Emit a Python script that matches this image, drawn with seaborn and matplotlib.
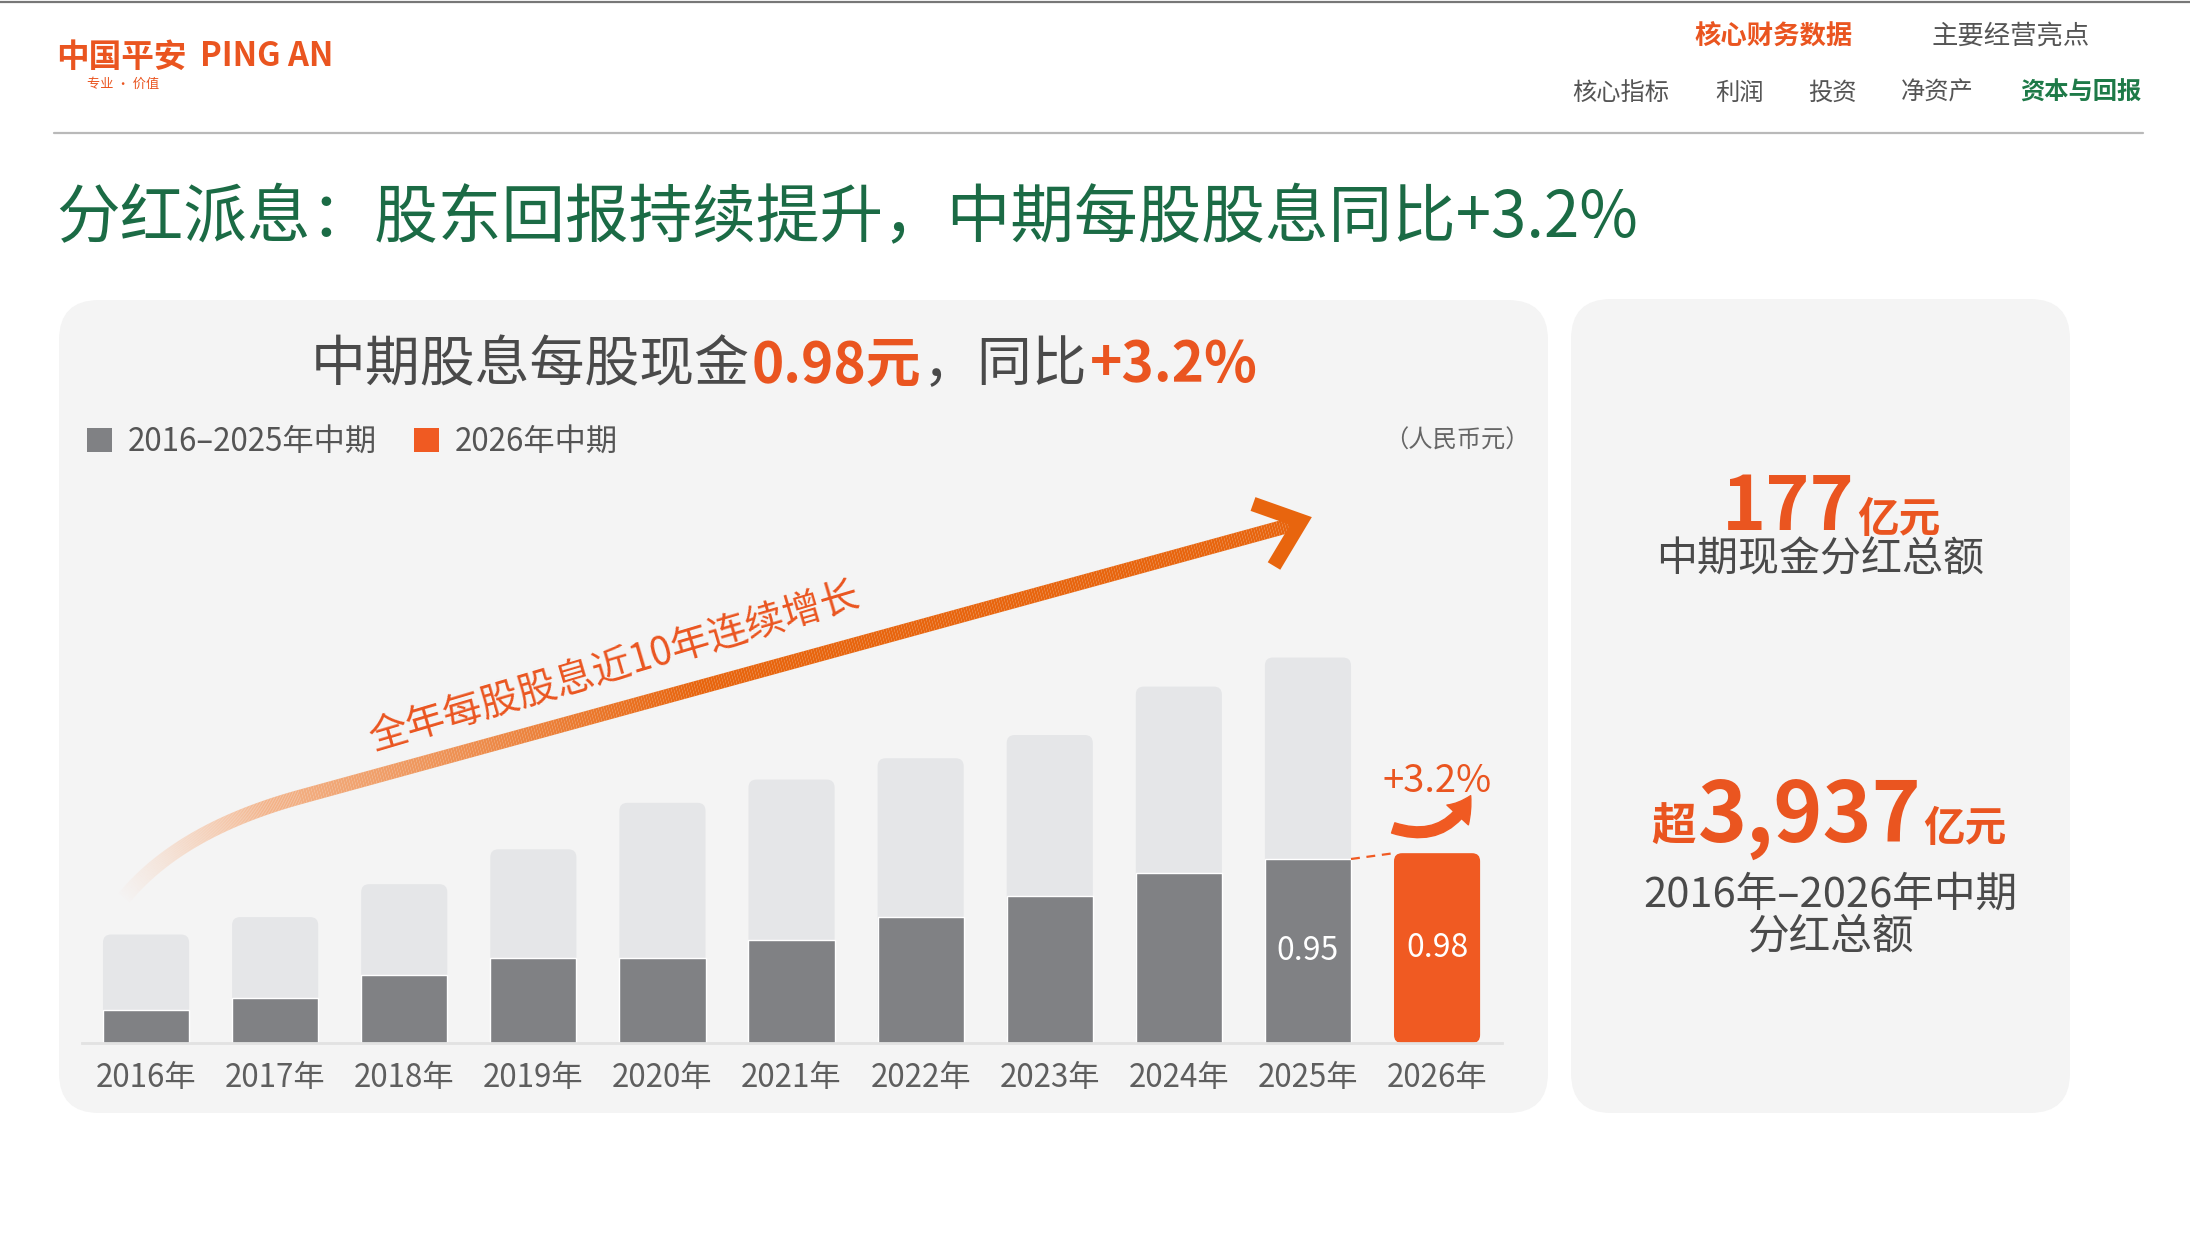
import numpy as np
import pandas as pd
import matplotlib
matplotlib.use("Agg")
import matplotlib.pyplot as plt
import seaborn as sns
from matplotlib.patches import FancyBboxPatch, Patch, FancyArrowPatch
from matplotlib.collections import LineCollection
from matplotlib.lines import Line2D
from matplotlib.transforms import IdentityTransform
from matplotlib.colors import to_rgb

# ---------------- data ----------------
years = ["2016年", "2017年", "2018年", "2019年", "2020年", "2021年",
         "2022年", "2023年", "2024年", "2025年", "2026年"]
interim_dps = [0.17, 0.23, 0.35, 0.44, 0.44, 0.53, 0.65, 0.76, 0.88, 0.95, 0.98]
full_year_dps = [0.56, 0.65, 0.82, 1.00, 1.24, 1.36, 1.47, 1.59, 1.84, 1.99, np.nan]
legend_labels = ["2016–2025年中期", "2026年中期"]
labelled_years = ["2025年", "2026年"]
yoy_label = "+3.2%"

title_text = "分红派息：股东回报持续提升，中期每股股息同比+3.2%"
heading_parts = ["中期股息每股现金", "0.98元", "，同比", "+3.2%"]
unit_text = "（人民币元）"
arrow_text = "全年每股股息近10年连续增长"
kpi1_value, kpi1_unit, kpi1_label = "177", "亿元", "中期现金分红总额"
kpi2_prefix, kpi2_value, kpi2_unit = "超", "3,937", "亿元"
kpi2_label = ["2016年–2026年中期", "分红总额"]
nav_top = ["核心财务数据", "主要经营亮点"]
nav_sub = ["核心指标", "利润", "投资", "净资产", "资本与回报"]

# ---------------- style ----------------
ORANGE = "#F05A22"
ORANGE_T = "#EA5520"
GREEN = "#1B6B45"
DARK = "#808184"
LIGHT = "#E5E6E8"
PANEL = "#F4F4F4"
TXT = "#4A4A4A"

sns.set_style("white")
plt.rcParams["font.family"] = ["Noto Sans CJK SC", "DejaVu Sans"]

W, H = 2190, 1235
fig = plt.figure(figsize=(W / 100, H / 100), dpi=100, facecolor="white")


def fx(x):
    return x / W


def fy(y):
    return 1 - y / H


# top border line and separator
fig.add_artist(Line2D([0, 1], [fy(1.5), fy(1.5)], transform=fig.transFigure,
                      color="#777777", lw=1.6))
fig.add_artist(Line2D([fx(54), fx(2143)], [fy(133), fy(133)], transform=fig.transFigure,
                      color="#B9B9B9", lw=1.6))

# panels
for (x0, y0, x1, y1) in [(59, 300, 1548, 1113), (1571, 299, 2070, 1113)]:
    p = FancyBboxPatch((x0, H - y1), x1 - x0, y1 - y0,
                       boxstyle="round,pad=0,rounding_size=40",
                       transform=IdentityTransform(), fc=PANEL, ec="none", zorder=-5)
    fig.add_artist(p)

# logo
fig.text(fx(56), fy(57), "中国平安", ha="left", va="center", fontsize=23.5,
         weight="bold", color=ORANGE_T)
fig.text(fx(200), fy(57), "PING AN", ha="left", va="center", fontsize=23.5,
         weight="bold", color=ORANGE_T)
fig.text(fx(87), fy(84), "专业 · 价值", ha="left", va="center", fontsize=9.5,
         color=ORANGE_T)

# navigation
fig.text(fx(1774), fy(36), nav_top[0], ha="center", va="center", fontsize=19,
         weight="bold", color=ORANGE_T)
fig.text(fx(2011), fy(36), nav_top[1], ha="center", va="center", fontsize=19,
         color="#555555")
for s, cx in zip(nav_sub, [1621, 1740, 1832, 1937, 2081]):
    last = s == nav_sub[-1]
    fig.text(fx(cx), fy(93), s, ha="center", va="center", fontsize=17.5,
             weight="bold" if last else "normal",
             color="#1E7A48" if last else "#555555")

# title
fig.text(fx(56), fy(219), title_text, ha="left", va="center", fontsize=45.8, color=GREEN)


def rich(pieces, x, y, ha="center"):
    r = fig.canvas.get_renderer()
    ts = []
    for s, kw, dy in pieces:
        t = fig.text(0, fy(y + dy), s, ha="left", va="baseline", **kw)
        ts.append(t)
    ws = [t.get_window_extent(r).width for t in ts]
    cur = x - sum(ws) / 2 if ha == "center" else x
    for t, w in zip(ts, ws):
        t.set_x(fx(cur))
        cur += w + 2
    return ts


# heading in the left panel
rich([(heading_parts[0], dict(fontsize=39.5, color=TXT), 0),
      (heading_parts[1], dict(fontsize=39.5, color=ORANGE_T, weight="bold"), 0),
      (heading_parts[2], dict(fontsize=39.5, color=TXT), 0),
      (heading_parts[3], dict(fontsize=39.5, color=ORANGE_T, weight="bold"), 0)],
     781, 381)

fig.text(fx(1530), fy(441), unit_text, ha="right", va="center", fontsize=17.5,
         color="#666666")

# ---------------- bar chart ----------------
L, R = 81.5, 1501.6
base_y, top_y = 1043, 400
ax = fig.add_axes([fx(L), fy(base_y), (R - L) / W, (base_y - top_y) / H])
ax.set_facecolor("none")

df = pd.DataFrame({"year": years, "interim": interim_dps, "full": full_year_dps})
bar_colors = {y: (ORANGE if y == years[-1] else DARK) for y in years}

sns.barplot(data=df, x="year", y="full", order=years, color=LIGHT, saturation=1,
            width=0.667, errorbar=None, ax=ax)
light_bars = list(ax.patches)
sns.barplot(data=df, x="year", y="interim", order=years, hue="year", hue_order=years,
            palette=bar_colors, saturation=1, width=0.667, errorbar=None,
            legend=False, ax=ax)
dark_bars = [p for p in ax.patches if p not in light_bars]
dark_bars.sort(key=lambda b: b.get_x())

ax.set_xlim(-0.5, len(years) - 0.5)
ax.set_ylim(0, (base_y - top_y) / 193.7)

px_x = (R - L) / len(years)
px_y = 193.7
rad = 8 / px_x
asp = px_x / px_y

for b in dark_bars:
    b.set_zorder(2)


def round_bar(b, z):
    x, y, w, h = b.get_x(), b.get_y(), b.get_width(), b.get_height()
    if not np.isfinite(h) or h <= 0:
        return
    b.set_visible(False)
    fb = FancyBboxPatch((x, y), w, h, boxstyle=f"round,pad=0,rounding_size={rad}",
                        mutation_aspect=asp, fc=b.get_facecolor(), ec="none", zorder=z)
    ax.add_patch(fb)


for b in light_bars:
    round_bar(b, 1)
round_bar(dark_bars[-1], 2)

sns.despine(ax=ax, left=True)
ax.spines["bottom"].set_color("#E2E2E2")
ax.spines["bottom"].set_linewidth(2)
ax.set_yticks([])
ax.set_xlabel("")
ax.set_ylabel("")
ax.tick_params(axis="x", length=0, pad=14, labelsize=22.5, labelcolor="#5E5E5E")

# value labels
for yr in labelled_years:
    i = years.index(yr)
    ax.text(i, interim_dps[i] / 2, f"{interim_dps[i]:.2f}", ha="center", va="center",
            color="white", fontsize=23, zorder=5)

# dashed connector 2025 -> 2026
b9, b10 = dark_bars[-2], dark_bars[-1]
ax.plot([b9.get_x() + b9.get_width(), b10.get_x()],
        [interim_dps[-2], interim_dps[-1]], ls=(0, (4, 3)), color=ORANGE, lw=1.6, zorder=4)

# +3.2% label and small curved arrow
ax.text(len(years) - 1, interim_dps[-1] + 0.37, yoy_label, ha="center", va="center",
        color=ORANGE_T, fontsize=27.5, zorder=5)
small = FancyArrowPatch((9.64, 1.115), (10.27, 1.29), connectionstyle="arc3,rad=0.45",
                        arrowstyle="simple,tail_width=0.55,head_width=1.5,head_length=1.2",
                        mutation_scale=14, color=ORANGE, zorder=5)
ax.add_patch(small)

# legend
handles = [Patch(facecolor=DARK, edgecolor="none"), Patch(facecolor=ORANGE, edgecolor="none")]
ax.legend(handles, legend_labels, loc="center left", bbox_to_anchor=(fx(87), fy(442)),
          bbox_transform=fig.transFigure, ncol=2, frameon=False, fontsize=22.5,
          handlelength=0.8, handleheight=0.8, handletextpad=0.5, columnspacing=1.2,
          borderpad=0, borderaxespad=0, labelcolor="#555555")

# ---------------- big gradient arrow ----------------
P0 = np.array([124.0, 898.0])
C = np.array([180.0, 830.0])
P2 = np.array([300.0, 797.0])
P3 = np.array([1298.0, 523.0])
t = np.linspace(0, 1, 160)[:, None]
curve = (1 - t) ** 2 * P0 + 2 * (1 - t) * t * C + t ** 2 * P2
t2 = np.linspace(0, 1, 400)[1:, None]
straight = P2 + t2 * (P3 - P2)
pts = np.vstack([curve, straight])
seglen = np.hypot(*np.diff(pts, axis=0).T)
s = np.concatenate([[0], np.cumsum(seglen)])
s = s / s[-1]
c0 = np.array(to_rgb("#F7D2BA"))
c1 = np.array(to_rgb("#E8650E"))
u = np.clip(s / 0.5, 0, 1)[:, None]
rgb = c0 * (1 - u) + c1 * u
alpha = np.clip(s / 0.14, 0, 1) ** 0.9
rgba = np.column_stack([rgb, alpha])
disp = np.column_stack([pts[:, 0], H - pts[:, 1]])
segs = np.stack([disp[:-1], disp[1:]], axis=1)
lc = LineCollection(segs, colors=rgba[1:], linewidths=10.5, capstyle="butt",
                    transform=IdentityTransform(), zorder=3)
fig.add_artist(lc)
head = Line2D([1253, 1301, 1274], [H - 504, H - 521, H - 566], transform=IdentityTransform(),
              color="#E8650E", lw=10.5, solid_joinstyle="miter", solid_capstyle="butt", zorder=3)
fig.add_artist(head)

fig.text(fx(615), fy(668), arrow_text, rotation=16.5, rotation_mode="anchor",
         ha="center", va="center", color=ORANGE_T, fontsize=28)

# ---------------- right panel KPIs ----------------
rich([(kpi1_value, dict(fontsize=54, color=ORANGE_T, weight="bold"), 0),
      (kpi1_unit, dict(fontsize=30, color=ORANGE_T, weight="bold"), 2)],
     1830, 530)
fig.text(fx(1820), fy(560), kpi1_label, ha="center", va="center", fontsize=29.5, color=TXT)

rich([(kpi2_prefix, dict(fontsize=32, color=ORANGE_T, weight="bold"), -1),
      (kpi2_value, dict(fontsize=60, color=ORANGE_T, weight="bold"), 0),
      (kpi2_unit, dict(fontsize=30, color=ORANGE_T, weight="bold"), -1)],
     1827, 842)
fig.text(fx(1830), fy(895), kpi2_label[0], ha="center", va="center", fontsize=30, color=TXT)
fig.text(fx(1830), fy(937), kpi2_label[1], ha="center", va="center", fontsize=30, color=TXT)

fig.savefig("out.png", dpi=100, facecolor="white")
